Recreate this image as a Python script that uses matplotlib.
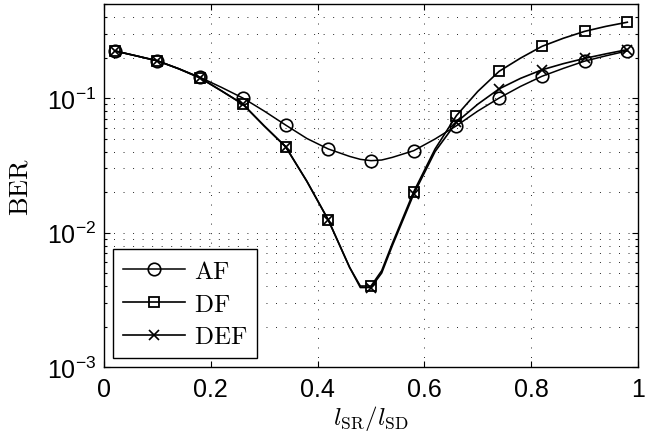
import numpy as np
import matplotlib
matplotlib.use("Agg")
import matplotlib.pyplot as plt
from matplotlib.ticker import FuncFormatter, LogLocator, NullLocator

plt.rcParams['font.family'] = ['Liberation Sans', 'DejaVu Sans']
plt.rcParams['mathtext.fontset'] = 'custom'
plt.rcParams['mathtext.rm'] = 'cmr10'
plt.rcParams['mathtext.it'] = 'cmmi10'
plt.rcParams['mathtext.sf'] = 'Liberation Sans'

# values; markers sit at every 0.08 starting at 0.02
x = [0.02, 0.06, 0.10, 0.14, 0.18, 0.22, 0.26, 0.30, 0.34, 0.38, 0.42, 0.46,
     0.48, 0.50, 0.52, 0.54, 0.58, 0.62, 0.66, 0.70, 0.74, 0.78, 0.82, 0.86,
     0.90, 0.94, 0.98]
marker_x = [0.02, 0.10, 0.18, 0.26, 0.34, 0.42, 0.50, 0.58, 0.66, 0.74, 0.82,
            0.90, 0.98]

ber_af = [0.224, 0.206, 0.189, 0.165, 0.1425, 0.12, 0.100, 0.080, 0.063, 0.050,
          0.0418, 0.0368, 0.0350, 0.0342, 0.0346, 0.0362, 0.0406, 0.0496, 0.0622,
          0.080, 0.100, 0.122, 0.145, 0.166, 0.188, 0.206, 0.224]

ber_df = [0.224, 0.206, 0.189, 0.165, 0.141, 0.113, 0.090, 0.062, 0.0435, 0.024,
          0.0124, 0.0055, 0.0040, 0.0040, 0.0052, 0.0083, 0.0201, 0.0418, 0.074,
          0.112, 0.158, 0.198, 0.242, 0.278, 0.313, 0.341, 0.366]

ber_def = [0.224, 0.206, 0.189, 0.165, 0.141, 0.113, 0.090, 0.062, 0.0435, 0.024,
           0.0124, 0.0055, 0.0039, 0.0039, 0.0050, 0.0080, 0.0193, 0.040, 0.066,
           0.090, 0.117, 0.140, 0.162, 0.180, 0.197, 0.213, 0.229]

xticks = [0, 0.2, 0.4, 0.6, 0.8, 1]

marks = [i for i, v in enumerate(x) if np.isclose(marker_x, v).any()]

fig = plt.figure(figsize=(6.65, 4.39), dpi=100)
ax = fig.add_axes([0.1564, 0.1617, 0.8030, 0.8269])

ax.plot(x, ber_af, '-o', color='k', lw=1.1, ms=9, mfc='none', mew=1.2,
        markevery=marks, label=r'$\mathrm{AF}$')
ax.plot(x, ber_df, '-s', color='k', lw=1.2, ms=7.5, mfc='none', mew=1.3,
        markevery=marks, label=r'$\mathrm{DF}$')
ax.plot(x, ber_def, '-x', color='k', lw=1.2, ms=7, mew=1.2,
        markevery=marks, label=r'$\mathrm{DEF}$')

ax.set_yscale('log')
ax.set_xlim(0, 1)
ax.set_ylim(1e-3, 0.5)
ax.set_xticks(xticks)
ax.xaxis.set_minor_locator(NullLocator())
ax.xaxis.set_major_formatter(FuncFormatter(lambda v, p: '%g' % v))
ax.yaxis.set_major_locator(LogLocator(base=10, numticks=10))
ax.yaxis.set_minor_locator(LogLocator(base=10, subs=np.arange(2, 10), numticks=20))
ax.yaxis.set_major_formatter(
    FuncFormatter(lambda v, p: r'$\mathsf{10^{%d}}$' % round(np.log10(v))))

dots = (0, (1, 8.8))
ax.grid(True, which='major', axis='both', color='0.15', lw=0.7, ls=dots)
ax.grid(True, which='minor', axis='y', color='0.15', lw=0.7, ls=dots)

ax.tick_params(which='both', direction='in', top=True, right=True, width=0.8)
ax.tick_params(which='major', length=4, labelsize=18)
ax.tick_params(which='minor', length=2.5)
ax.tick_params(axis='x', pad=7)
ax.tick_params(axis='y', pad=6)
for s in ax.spines.values():
    s.set_linewidth(1.0)

ax.set_xlabel(r'$l_{\mathrm{SR}}/l_{\mathrm{SD}}$', fontsize=18)
ax.set_ylabel(r'$\mathrm{BER}$', fontsize=19)
ax.xaxis.set_label_coords(0.5, -0.10)
ax.yaxis.set_label_coords(-0.133, 0.5)

leg = ax.legend(loc='lower left', fontsize=18, fancybox=False, framealpha=1,
                edgecolor='k', borderaxespad=0.35, handlelength=2.5,
                handletextpad=0.35, labelspacing=0.35, borderpad=0.4)
leg.get_frame().set_linewidth(1.0)

fig.savefig('out.png', dpi=100)
